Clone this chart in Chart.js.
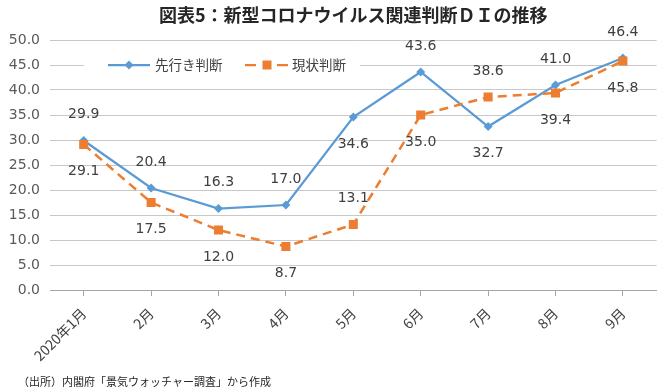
<!DOCTYPE html>
<html lang="ja">
<head>
<meta charset="utf-8">
<title>図表5：新型コロナウイルス関連判断ＤＩの推移</title>
<script src="https://cdn.jsdelivr.net/npm/chart.js@4.4.1/dist/chart.umd.min.js"></script>
<style>
  html, body { margin: 0; padding: 0; background: #fff; }
  #wrap { width: 663px; height: 392px; position: relative; }
</style>
</head>
<body>
<div id="wrap"><canvas id="chart"></canvas></div>
<script>
// ---------------------------------------------------------------------------
// Data
// ---------------------------------------------------------------------------
const TITLE = '図表5：新型コロナウイルス関連判断ＤＩの推移';
const SOURCE = '（出所）内閣府「景気ウォッチャー調査」から作成';

const months = ['2020年1月', '2月', '3月', '4月', '5月', '6月', '7月', '8月', '9月'];
const yTicks = [0, 5, 10, 15, 20, 25, 30, 35, 40, 45, 50];

const outlookLabel = '先行き判断';
const outlookValues = [29.9, 20.4, 16.3, 17.0, 34.6, 43.6, 32.7, 41.0, 46.4];

const currentLabel = '現状判断';
const currentValues = [29.1, 17.5, 12.0, 8.7, 13.1, 35.0, 38.6, 39.4, 45.8];

// where each value label sits relative to its point
const outlookLabelSide = ['up', 'up', 'up', 'up', 'down', 'up', 'down', 'up', 'up'];
const currentLabelSide = ['down', 'down', 'down', 'down', 'up', 'down', 'up', 'down', 'down'];

const BLUE = '#5b9bd5';
const ORANGE = '#ed7d31';
const TEXT = '#404040';
const NUM_FONT = '"DejaVu Sans", Verdana, sans-serif';
const JP_FONT = '"Noto Sans CJK JP", "Noto Sans", sans-serif';

// ---------------------------------------------------------------------------
// Plugins: title, value labels, in-plot legend, source note
// ---------------------------------------------------------------------------
const valueLabels = {
  id: 'valueLabels',
  afterDatasetsDraw(chart) {
    const { ctx } = chart;
    const sides = [outlookLabelSide, currentLabelSide];
    ctx.save();
    ctx.font = '14px ' + NUM_FONT;
    ctx.fillStyle = TEXT;
    ctx.textAlign = 'center';
    ctx.textBaseline = 'middle';
    chart.data.datasets.forEach((ds, di) => {
      const meta = chart.getDatasetMeta(di);
      meta.data.forEach((pt, i) => {
        const dy = sides[di][i] === 'up' ? -26 : 27;
        ctx.fillText(ds.data[i].toFixed(1), pt.x, pt.y + dy);
      });
    });
    ctx.restore();
  },
};

const decorations = {
  id: 'decorations',
  afterDraw(chart) {
    const { ctx, chartArea } = chart;
    ctx.save();

    // title
    ctx.font = 'bold 18px ' + JP_FONT;
    ctx.fillStyle = '#262626';
    ctx.textAlign = 'center';
    ctx.textBaseline = 'middle';
    ctx.fillText(TITLE, (chartArea.left + chartArea.right) / 2, 15);

    // legend (white box over the gridline)
    const ly = chart.scales.y.getPixelForValue(45);
    ctx.fillStyle = '#fff';
    ctx.fillRect(84, ly - 10, 276, 20);

    ctx.lineWidth = 2.25;
    ctx.strokeStyle = BLUE;
    ctx.beginPath();
    ctx.moveTo(108, ly);
    ctx.lineTo(150, ly);
    ctx.stroke();
    ctx.fillStyle = BLUE;
    ctx.beginPath();
    ctx.moveTo(129, ly - 4.5);
    ctx.lineTo(133.5, ly);
    ctx.lineTo(129, ly + 4.5);
    ctx.lineTo(124.5, ly);
    ctx.closePath();
    ctx.fill();

    ctx.strokeStyle = ORANGE;
    ctx.beginPath();
    ctx.moveTo(245, ly);
    ctx.lineTo(256, ly);
    ctx.moveTo(277, ly);
    ctx.lineTo(288, ly);
    ctx.stroke();
    ctx.fillStyle = ORANGE;
    ctx.fillRect(262.5, ly - 4.5, 9, 9);

    ctx.font = '13.5px ' + JP_FONT;
    ctx.fillStyle = TEXT;
    ctx.textAlign = 'left';
    ctx.fillText(outlookLabel, 155, ly);
    ctx.fillText(currentLabel, 292, ly);

    // source note
    ctx.font = '11px ' + JP_FONT;
    ctx.fillStyle = '#262626';
    ctx.fillText(SOURCE, 18, 382);

    ctx.restore();
  },
};

// ---------------------------------------------------------------------------
// Chart
// ---------------------------------------------------------------------------
const canvas = document.getElementById('chart');

new Chart(canvas, {
  type: 'line',
  data: {
    labels: months,
    datasets: [
      {
        label: outlookLabel,
        data: outlookValues,
        borderColor: BLUE,
        backgroundColor: BLUE,
        borderWidth: 2.25,
        pointStyle: 'rectRot',
        pointRadius: 4.5,
        pointBorderWidth: 0,
        tension: 0,
        order: 1,
      },
      {
        label: currentLabel,
        data: currentValues,
        borderColor: ORANGE,
        backgroundColor: ORANGE,
        borderWidth: 2.5,
        borderDash: [9, 6],
        pointStyle: 'rect',
        pointRadius: 6.4,
        pointBorderWidth: 0,
        tension: 0,
        order: 0,
      },
    ],
  },
  options: {
    responsive: true,
    maintainAspectRatio: false,
    animation: false,
    layout: { padding: { top: 40, right: 5, left: 0, bottom: 0 } },
    plugins: {
      legend: { display: false },
      title: { display: false },
      tooltip: { enabled: false },
    },
    scales: {
      x: {
        offset: true,
        afterFit: (scale) => { scale.height = 102; },
        grid: {
          display: true,
          drawOnChartArea: false,
          drawTicks: true,
          tickLength: 6,
          color: '#a6a6a6',
        },
        border: { display: true, color: '#a6a6a6', width: 1 },
        ticks: {
          autoSkip: false,
          minRotation: 45,
          maxRotation: 45,
          padding: 9,
          color: TEXT,
          font: { family: JP_FONT, size: 14 },
        },
      },
      y: {
        min: 0,
        max: 50,
        afterFit: (scale) => { scale.width = 50; },
        afterBuildTicks: (scale) => { scale.ticks = yTicks.map((v) => ({ value: v })); },
        grid: { color: '#c8c8c8', drawTicks: false, lineWidth: 1 },
        border: { display: false },
        ticks: {
          padding: 10,
          color: '#595959',
          font: { family: NUM_FONT, size: 14 },
          callback: (v) => Number(v).toFixed(1),
        },
      },
    },
  },
  plugins: [valueLabels, decorations],
});
</script>
</body>
</html>
